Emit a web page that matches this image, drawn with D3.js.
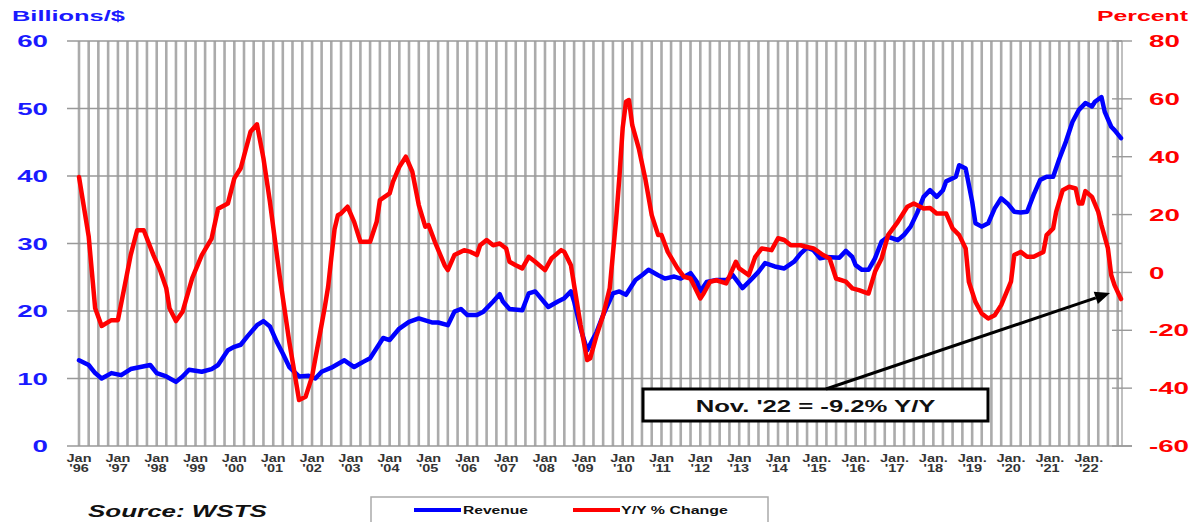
<!DOCTYPE html>
<html><head><meta charset="utf-8">
<script src="https://cdn.jsdelivr.net/npm/d3@7"></script>
<style>html,body{margin:0;padding:0;background:#fff;}svg{display:block;font-family:"Liberation Sans",Arial,sans-serif;}</style>
</head><body>
<svg id="chart" width="1196" height="522"></svg>
<script>
// ---------------- DATA ----------------
const revenueMonths = [
 "1996-01","1996-04","1996-06","1996-08","1996-11",
 "1997-02","1997-05","1997-08","1997-11",
 "1998-01","1998-04","1998-07","1998-09","1998-11",
 "1999-03","1999-06","1999-08","1999-11",
 "2000-01","2000-03","2000-05","2000-08","2000-10","2000-12",
 "2001-02","2001-04","2001-06","2001-09","2001-12",
 "2002-02","2002-04","2002-07","2002-11",
 "2003-02","2003-05","2003-07","2003-11",
 "2004-01","2004-04","2004-07","2004-10",
 "2005-02","2005-04","2005-07","2005-09","2005-11",
 "2006-01","2006-04","2006-06","2006-09","2006-11","2006-12",
 "2007-02","2007-06","2007-08","2007-10",
 "2008-02","2008-05","2008-07","2008-09","2008-10","2008-12",
 "2009-02","2009-04","2009-05","2009-07","2009-10","2009-12",
 "2010-02","2010-05","2010-07","2010-09","2010-12",
 "2011-02","2011-05","2011-07","2011-10","2011-12",
 "2012-01","2012-03","2012-06","2012-09","2012-11",
 "2013-02","2013-04","2013-07","2013-09","2013-12",
 "2014-03","2014-06","2014-08","2014-10","2014-12",
 "2015-02","2015-04","2015-08","2015-10","2015-12",
 "2016-01","2016-03","2016-05","2016-07","2016-09","2016-11",
 "2017-02","2017-04","2017-06","2017-08","2017-10","2017-12",
 "2018-02","2018-04","2018-05","2018-08","2018-09","2018-11",
 "2019-01","2019-02","2019-04","2019-06","2019-08","2019-10","2019-12",
 "2020-02","2020-04","2020-06","2020-08","2020-10","2020-12",
 "2021-02","2021-04","2021-06","2021-08","2021-10","2021-12",
 "2022-02","2022-03","2022-05","2022-06","2022-08","2022-09","2022-11"];
const revenueValues = [
 12.7,12.0,10.8,10.0,10.8,
 10.5,11.4,11.7,12.0,
 10.8,10.3,9.5,10.3,11.3,
 11.0,11.4,12.0,14.2,
 14.7,15.0,16.2,17.9,18.5,17.7,
 15.5,13.7,11.7,10.3,10.4,
 10.0,11.0,11.6,12.7,
 11.7,12.5,13.0,16.0,
 15.7,17.4,18.4,18.9,
 18.3,18.3,17.9,19.9,20.3,
 19.4,19.4,19.9,21.4,22.5,21.4,
 20.3,20.1,22.6,22.9,
 20.6,21.4,21.9,22.9,21.4,17.4,
 14.2,16.0,16.9,19.4,22.6,22.9,
 22.4,24.6,25.3,26.1,25.3,
 24.8,25.1,24.8,25.6,24.3,
 22.9,24.3,24.6,24.6,25.3,
 23.4,24.3,25.8,27.1,26.6,
 26.3,27.3,28.5,29.4,29.0,
 27.8,28.0,27.9,28.9,28.0,
 26.8,26.1,26.1,27.8,30.3,31.0,
 30.5,31.3,32.5,34.5,36.9,37.9,
 36.9,37.9,39.2,39.9,41.6,41.1,
 36.2,33.0,32.5,33.0,35.2,36.7,35.9,
 34.7,34.6,34.7,37.2,39.4,39.9,
 39.9,42.6,45.1,48.0,49.8,50.8,
 50.3,51.0,51.7,49.5,47.3,46.8,45.6];

const changeMonths = [
 "1996-01","1996-04","1996-06","1996-08","1996-11",
 "1997-01","1997-03","1997-05","1997-07","1997-09","1997-12",
 "1998-02","1998-04","1998-05","1998-07","1998-09","1998-12",
 "1999-03","1999-06","1999-08","1999-11",
 "2000-01","2000-03","2000-06","2000-08","2000-10","2000-12",
 "2001-03","2001-06","2001-09","2001-11",
 "2002-01","2002-04","2002-05","2002-06","2002-07","2002-08","2002-09","2002-10","2002-12",
 "2003-02","2003-04","2003-07","2003-09","2003-10",
 "2004-01","2004-02","2004-04","2004-06","2004-08","2004-10","2004-12",
 "2005-01","2005-03","2005-06","2005-07","2005-09","2005-12",
 "2006-02","2006-04","2006-05","2006-07","2006-09","2006-11",
 "2007-01","2007-02","2007-04","2007-06","2007-08","2007-10",
 "2008-01","2008-03","2008-06","2008-07","2008-09","2008-10","2008-12",
 "2009-02","2009-03","2009-05","2009-07","2009-09","2009-11","2009-12",
 "2010-01","2010-02","2010-03","2010-04","2010-06","2010-08","2010-10","2010-12",
 "2011-01","2011-03","2011-06","2011-08","2011-10",
 "2012-01","2012-02","2012-04","2012-06","2012-09","2012-12",
 "2013-01","2013-04","2013-06","2013-08","2013-11",
 "2014-01","2014-03","2014-05","2014-08","2014-10","2014-12",
 "2015-03","2015-05","2015-07","2015-10","2015-12",
 "2016-02","2016-05","2016-07","2016-09","2016-11",
 "2017-02","2017-05","2017-07","2017-10","2017-12",
 "2018-02","2018-05","2018-07","2018-09","2018-11","2018-12",
 "2019-02","2019-04","2019-06","2019-08","2019-10",
 "2020-01","2020-02","2020-04","2020-06","2020-08","2020-11","2020-12",
 "2021-02","2021-03","2021-05","2021-07","2021-09","2021-10","2021-11","2021-12",
 "2022-02","2022-04","2022-05","2022-07","2022-08","2022-09","2022-11"];
const changeValues = [
 33.0,12.5,-12.4,-18.5,-16.5,
 -16.5,-5.5,6.0,14.6,14.6,6.0,
 0.8,-5.5,-12.4,-16.8,-13.6,-2.0,
 6.0,11.7,22.0,23.8,
 32.5,36.0,48.6,51.2,39.4,24.4,
 -0.9,-24.0,-44.1,-43.0,
 -36.0,-18.0,-12.0,-5.0,5.0,15.0,19.8,20.4,22.7,
 17.5,10.6,10.6,17.5,25.0,
 27.3,31.3,36.5,40.0,34.8,23.3,15.8,
 16.4,10.6,2.5,0.8,6.0,7.7,
 7.1,6.0,9.4,11.2,9.4,10.0,
 8.3,3.7,2.5,1.4,5.4,3.7,
 0.8,4.8,7.7,7.1,2.5,-4.4,-18.2,
 -30.3,-29.7,-21.7,-14.8,-5.5,18.7,33.0,
 50.0,59.0,59.6,50.9,42.9,32.5,19.8,12.9,
 12.9,7.1,1.4,-1.5,-2.1,
 -9.0,-7.3,-3.2,-2.7,-3.8,3.7,
 1.4,-0.9,5.4,8.3,7.7,
 11.8,11.2,9.4,9.4,8.8,8.3,
 6.0,4.8,-2.1,-3.2,-5.5,
 -6.1,-7.3,0.2,4.8,12.9,
 17.5,22.7,23.8,22.1,22.3,
 20.4,20.4,15.2,12.9,8.3,-3.2,
 -10.2,-14.2,-15.9,-14.8,-11.3,
 -3.2,6.0,7.1,5.4,5.4,7.1,12.9,
 15.2,20.9,28.4,29.6,29.0,23.8,23.8,28.1,
 26.1,20.9,16.4,8.3,-0.9,-4.4,-9.2];

const leftTicks = [0,10,20,30,40,50,60];
const rightTicks = [-60,-40,-20,0,20,40,60,80];
const tickYears = [1996,1997,1998,1999,2000,2001,2002,2003,2004,2005,2006,2007,2008,2009,2010,2011,2012,2013,2014,2015,2016,2017,2018,2019,2020,2021,2022];
const tickMonthNames = ["Jan","Jan","Jan","Jan","Jan","Jan","Jan","Jan","Jan","Jan","Jan","Jan","Jan","Jan","Jan","Jan","Jan","Jan","Jan","Jan.","Jan.","Jan.","Jan.","Jan.","Jan.","Jan.","Jan."];
const tickYearNames = ["'96","'97","'98","'99","'00","'01","'02","'03","'04","'05","'06","'07","'08","'09","'10","'11","'12","'13","'14","'15","'16","'17","'18","'19","'20","'21","'22"];
const seriesNames = ["Revenue","Y/Y % Change"];
const leftTitle = "Billions/$";
const rightTitle = "Percent";
const sourceText = "Source: WSTS";
const noteText = "Nov. '22 = -9.2% Y/Y";

// ---------------- CHART ----------------
const BLUE = "#0000ff", RED = "#ff0000";
const TBLUE = "#1a1aff";
const parse = d3.timeParse("%Y-%m");
const P = {left: 67, right: 1122, top: 41, bottom: 446};
const x = d3.scaleTime().domain([parse("1996-01"), parse("2022-11")]).range([79, 1121]);
const yL = d3.scaleLinear().domain([0, 60]).range([P.bottom, P.top]);
const yR = d3.scaleLinear().domain([-60, 80]).range([P.bottom, P.top]);
const svg = d3.select("#chart");

function stext(parent, px, py, str, o) {
  const g = parent.append("g").attr("transform", `translate(${px},${py})`);
  const t = g.append("text").text(str)
    .attr("font-size", o.size)
    .attr("font-weight", o.weight || "bold")
    .attr("font-style", o.style || "normal")
    .attr("fill", o.fill || "#000")
    .attr("text-anchor", o.anchor || "start");
  if (o.dy) t.attr("dy", o.dy);
  let sx = o.sx || 1;
  if (o.width) sx = o.width / t.node().getComputedTextLength();
  t.attr("transform", `scale(${sx},1)`);
  return t;
}

// vertical quarterly gridlines
const grid = svg.append("g");
const quarters = d3.timeMonth.every(3).range(parse("1996-01"), parse("2022-11"));
grid.selectAll("line.v").data(quarters).join("line")
  .attr("x1", d => x(d)).attr("x2", d => x(d))
  .attr("y1", P.top).attr("y2", P.bottom)
  .attr("stroke", "#ababab").attr("stroke-width", 2.6);
grid.append("line").attr("x1", P.right).attr("x2", P.right).attr("y1", P.top).attr("y2", P.bottom)
  .attr("stroke", "#ababab").attr("stroke-width", 1.5);

// horizontal gridlines (left axis)
grid.selectAll("line.h").data(leftTicks).join("line")
  .attr("x1", P.left).attr("x2", d => d === 0 ? 1132 : P.right)
  .attr("y1", d => yL(d)).attr("y2", d => yL(d))
  .attr("stroke", "#999").attr("stroke-width", 1.4);

// right-axis tick marks
grid.selectAll("line.rt").data(rightTicks).join("line")
  .attr("x1", 1112).attr("x2", 1132)
  .attr("y1", d => yR(d)).attr("y2", d => yR(d))
  .attr("stroke", "#999").attr("stroke-width", 1.4);

// left axis labels
leftTicks.forEach(v => stext(svg, 48, yL(v), String(v), {size: 17, anchor: "end", fill: TBLUE, sx: 1.63, dy: "0.36em"}));
// right axis labels
rightTicks.forEach(v => stext(svg, 1149, yR(v), String(v), {size: 17, anchor: "start", fill: RED, sx: 1.63, dy: "0.36em"}));

// titles
stext(svg, 12, 20.5, leftTitle, {size: 15, fill: TBLUE, width: 113});
stext(svg, 1188, 20.5, rightTitle, {size: 15, fill: RED, anchor: "end", width: 91});

// x labels
tickYears.forEach((yr, i) => {
  const xx = x(parse(yr + "-01"));
  stext(svg, xx, 462, tickMonthNames[i], {size: 10, anchor: "middle", fill: "#333", sx: 1.45});
  stext(svg, xx, 472, tickYearNames[i], {size: 10, anchor: "middle", fill: "#333", sx: 1.45});
});

// lines
const revData = revenueMonths.map((m, i) => ({d: parse(m), v: revenueValues[i]}));
const chgData = changeMonths.map((m, i) => ({d: parse(m), v: changeValues[i]}));
svg.append("path").datum(revData)
  .attr("d", d3.line().x(p => x(p.d)).y(p => yL(p.v)))
  .attr("fill", "none").attr("stroke", BLUE).attr("stroke-width", 4.5)
  .attr("stroke-linejoin", "round").attr("stroke-linecap", "round");
svg.append("path").datum(chgData)
  .attr("d", d3.line().x(p => x(p.d)).y(p => yR(p.v)))
  .attr("fill", "none").attr("stroke", RED).attr("stroke-width", 4.5)
  .attr("stroke-linejoin", "round").attr("stroke-linecap", "round");

// annotation box
const box = {x: 643, y: 389, w: 345, h: 32};
svg.append("rect").attr("x", box.x).attr("y", box.y).attr("width", box.w).attr("height", box.h)
  .attr("fill", "#fff").attr("stroke", "#000").attr("stroke-width", 3);
stext(svg, box.x + box.w / 2, 412, noteText, {size: 16, anchor: "middle", fill: "#111", width: 240});

// arrow from box to last Y/Y point
const last = chgData[chgData.length - 1];
const tip = [x(last.d) - 11, yR(last.v) - 6];
const start = [box.x + 183, box.y];
const ang = Math.atan2(tip[1] - start[1], tip[0] - start[0]);
const hl = 15, hw = 6.5;
const base = [tip[0] - hl * Math.cos(ang), tip[1] - hl * Math.sin(ang)];
svg.append("line").attr("x1", start[0]).attr("y1", start[1]).attr("x2", base[0]).attr("y2", base[1])
  .attr("stroke", "#000").attr("stroke-width", 3);
svg.append("polygon").attr("points", [
  tip,
  [base[0] + hw * Math.sin(ang), base[1] - hw * Math.cos(ang)],
  [base[0] - hw * Math.sin(ang), base[1] + hw * Math.cos(ang)]
].map(p => p.join(",")).join(" ")).attr("fill", "#000");

// source
stext(svg, 88, 517, sourceText, {size: 17, style: "italic", fill: "#111", width: 179});

// legend
const lg = svg.append("g");
lg.append("rect").attr("x", 371).attr("y", 497).attr("width", 397).attr("height", 40)
  .attr("fill", "#fff").attr("stroke", "#aaa").attr("stroke-width", 1.5);
lg.append("line").attr("x1", 414).attr("x2", 461).attr("y1", 510).attr("y2", 510).attr("stroke", BLUE).attr("stroke-width", 4);
stext(lg, 463, 514, seriesNames[0], {size: 11, fill: "#111", width: 65});
lg.append("line").attr("x1", 573).attr("x2", 620).attr("y1", 510).attr("y2", 510).attr("stroke", RED).attr("stroke-width", 4);
stext(lg, 621, 514, seriesNames[1], {size: 11, fill: "#111", width: 107});
</script>
</body></html>
